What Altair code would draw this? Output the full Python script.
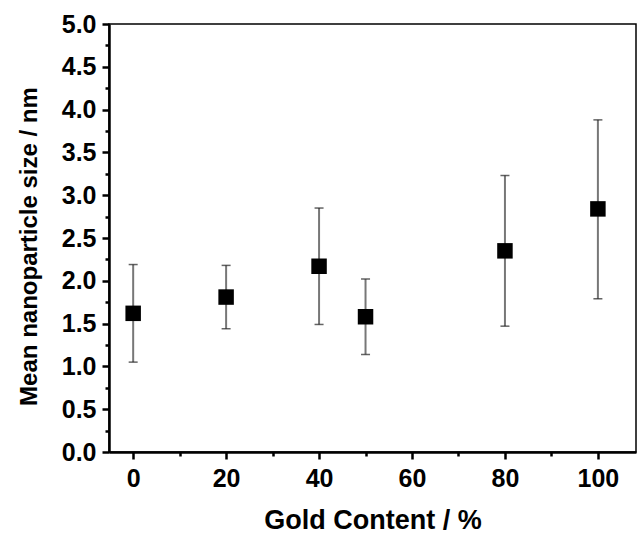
import altair as alt
import pandas as pd

gold = [0, 20, 40, 50, 80, 100]
mean_size = [1.62, 1.81, 2.17, 1.58, 2.35, 2.84]
err_low = [1.05, 1.44, 1.49, 1.14, 1.47, 1.79]
err_high = [2.19, 2.18, 2.85, 2.02, 3.23, 3.88]

x_major = [0, 20, 40, 60, 80, 100]
x_minor = [10, 30, 50, 70, 90]
y_major = [0.0, 0.5, 1.0, 1.5, 2.0, 2.5, 3.0, 3.5, 4.0, 4.5, 5.0]
y_minor = [0.25, 0.75, 1.25, 1.75, 2.25, 2.75, 3.25, 3.75, 4.25, 4.75]

df = pd.DataFrame({"gold": gold, "size": mean_size, "lo": err_low, "hi": err_high})

FONT = "Liberation Sans"
xs = alt.Scale(domain=[-5.2, 108.2], nice=False, zero=False)
ys = alt.Scale(domain=[0, 5], nice=False, zero=False)

major_x = alt.Axis(values=x_major, title="Gold Content / %", grid=False, tickSize=7, tickWidth=2.5,
                   tickColor="black", domainColor="black", domainWidth=2.5, labelFont=FONT,
                   labelFontSize=25, labelFontWeight="bold", labelColor="black", labelPadding=7,
                   titleFont=FONT, titleFontSize=27, titleFontWeight="bold", titleColor="black",
                   titlePadding=16, orient="bottom")
major_y = alt.Axis(values=y_major, title="Mean nanoparticle size / nm", grid=False, tickSize=7,
                   tickWidth=2.5, tickColor="black", domainColor="black", domainWidth=2.5,
                   labelFont=FONT, labelFontSize=25, labelFontWeight="bold", labelColor="black",
                   labelPadding=6, format=".1f", titleFont=FONT, titleFontSize=24,
                   titleFontWeight="bold", titleColor="black", titlePadding=20, titleY=222,
                   orient="left")
minor_x = alt.Axis(values=x_minor, title=None, grid=False, labels=False, domain=False, tickSize=4,
                   tickWidth=2.5, tickColor="black", orient="bottom")
minor_y = alt.Axis(values=y_minor, title=None, grid=False, labels=False, domain=False, tickSize=4,
                   tickWidth=2.5, tickColor="black", orient="left")

base = alt.Chart(df)

rules = base.mark_rule(color="#777777", strokeWidth=2).encode(
    x=alt.X("gold:Q", scale=xs, axis=major_x),
    y=alt.Y("lo:Q", scale=ys, axis=major_y),
    y2="hi:Q",
)
cap_lo = base.mark_tick(orient="horizontal", size=9, thickness=1.5, color="#222222").encode(
    x=alt.X("gold:Q", scale=xs, axis=None), y=alt.Y("lo:Q", scale=ys, axis=None))
cap_hi = base.mark_tick(orient="horizontal", size=9, thickness=1.5, color="#222222").encode(
    x=alt.X("gold:Q", scale=xs, axis=None), y=alt.Y("hi:Q", scale=ys, axis=None))
points = base.mark_square(size=240, color="black", opacity=1).encode(
    x=alt.X("gold:Q", scale=xs, axis=None), y=alt.Y("size:Q", scale=ys, axis=None))
minor = base.mark_point(opacity=0).encode(
    x=alt.X("gold:Q", scale=xs, axis=minor_x), y=alt.Y("size:Q", scale=ys, axis=minor_y))

chart = alt.layer(rules, minor, cap_lo, cap_hi, points).resolve_axis(
    x="independent", y="independent"
).properties(
    width=527, height=428,
    autosize=alt.AutoSizeParams(type="none"),
    padding={"left": 109, "top": 24, "right": 2, "bottom": 81},
    background="white",
).configure_view(stroke="black", strokeWidth=1.5)

chart.save("out.html", embed_options={"renderer": "svg", "actions": False})
